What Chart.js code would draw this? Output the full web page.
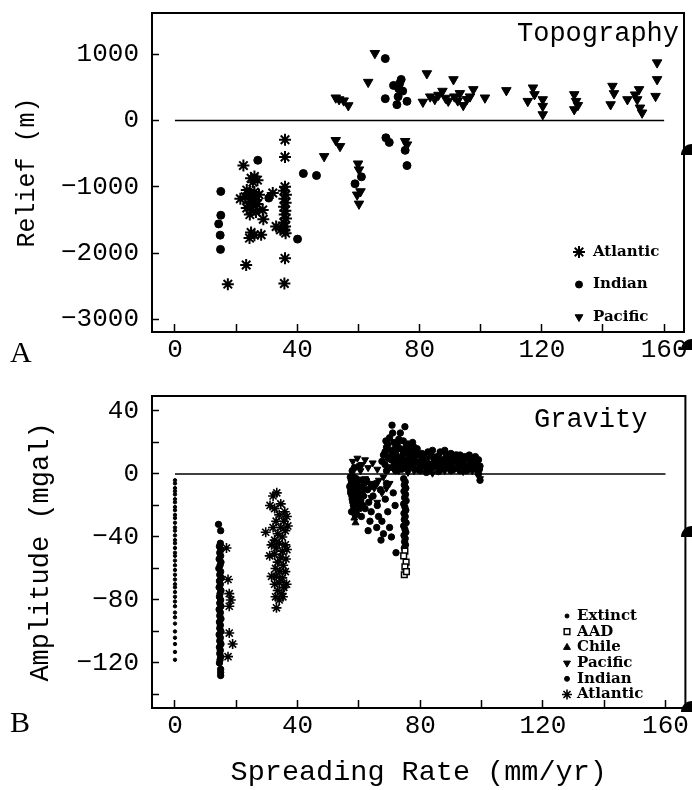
<!DOCTYPE html>
<html>
<head>
<meta charset="utf-8">
<script src="https://cdn.jsdelivr.net/npm/chart.js@4.4.1/dist/chart.umd.min.js"></script>
<style>
  body { margin: 0; background: #fff; }
  #wrap { position: relative; width: 692px; height: 790px; }
  canvas { position: absolute; left: 0; }
</style>
</head>
<body>
<div id="wrap">
  <canvas id="topo" width="692" height="380" style="top:0;width:692px;height:380px"></canvas>
  <canvas id="grav" width="692" height="410" style="top:380px;width:692px;height:410px"></canvas>
</div>
<script>
// spreading rate (mm/yr) vs relief (m) -- panel A
const topoAtlantic = [
  [17.3,-2470],[23.3,-2180],[22.4,-680],[36.0,-290],[36.0,-550],[36.0,-2080],[35.8,-2460],
  [21.4,-1180],[24.9,-870],[26.0,-845],[27.0,-900],[25.5,-930],
  [23.5,-1050],[24.5,-1100],[26.0,-1080],[27.5,-1120],[23.0,-1150],[25.0,-1180],[26.5,-1200],
  [24.0,-1250],[25.5,-1280],[27.0,-1260],[23.5,-1320],[25.0,-1350],[26.5,-1380],[24.5,-1420],
  [28.7,-1350],[28.9,-1490],[32.0,-1095],
  [24.9,-1690],[28.2,-1725],[24.4,-1775],[26.0,-1730],[33.1,-1600],[34.5,-1650],
  [36.0,-1000],[35.6,-1060],[36.3,-1120],[35.8,-1180],[36.2,-1240],[35.7,-1300],[36.1,-1360],
  [35.9,-1420],[36.3,-1480],[35.6,-1540],[36.0,-1600],[35.8,-1660],[36.2,-1700]
];
const topoIndian = [
  [15.0,-1070],[15.0,-1430],[14.3,-1560],[14.8,-1730],[14.9,-1945],
  [27.1,-600],[30.7,-1170],[40.1,-1790],[42.0,-800],[46.3,-830],
  [58.9,-955],[61.0,-850],
  [69.0,-260],[70.1,-330],[75.3,-450],[75.9,-680],
  [68.8,935],[74.0,620],[73.5,560],[71.5,530],[73.2,480],[74.5,445],[68.8,330],[72.6,240],[75.9,290],[73.0,360]
];
const topoPacific = [
  [65.4,1015],[63.2,580],[52.6,344],[53.7,318],[56.7,227],[55.2,300],
  [52.6,-298],[54.0,-389],[48.8,-541],[59.9,-652],[60.2,-742],[60.7,-1071],[59.6,-1121],[60.2,-1258],
  [75.3,-313],[75.9,-364],
  [82.4,710],[91.1,620],[81.1,280],[83.5,360],[86.2,385],[87.5,445],[89.4,295],[91.4,360],[93.2,410],
  [94.3,230],[96.5,360],[97.6,470],[92.5,300],[95.5,320],[88.5,340],[85.0,320],[101.4,344],[108.4,455],
  [117.1,495],[117.6,394],[115.4,292],[120.3,318],[120.3,217],[120.3,91],
  [130.6,394],[131.2,292],[130.6,167],[131.8,230],
  [143.1,520],[143.6,409],[142.5,242],[148.0,318],[151.8,470],[151.2,318],[152.1,192],[152.8,117],[150.5,390],
  [157.7,874],[157.7,621],[157.2,368]
];

// spreading rate (mm/yr) vs gravity amplitude (mgal) -- panel B
const gravExtinct = [
  [0,-4],[0,-6],[0,-9],[0,-11],[0,-13],[0,-16],[0,-18],[0,-21],[0,-23],[0,-26],[0,-28],[0,-31],
  [0,-34],[0,-36],[0,-39],[0,-42],[0,-44],[0,-47],[0,-50],[0,-52],[0,-55],[0,-58],[0,-61],[0,-64],
  [0,-67],[0,-70],[0,-72],[0,-75],[0,-78],[0,-81],[0,-84],[0,-88],[0,-91],[0,-95],[0,-100],[0,-104],
  [0,-108],[0,-113],[0,-118]
];
const gravAAD = [[75.0,-49],[74.6,-52],[75.4,-56],[75.0,-59],[74.8,-64],[75.5,-62]];
const gravChile = [[58.9,-31],[59.5,-25],[58.5,-28],[60.0,-20],[59.0,-15]];
const gravPacific = [
  [58,8],[59.5,10],[61,6],[62,9],[63,4],[64.5,7],[66,3],[60.5,2],[62,-3],[63.5,-6],[65,-9],[66.5,-4],
  [67.5,-12],[68,-2],[70,-6],[71,4],[73,2],[76,1],[78,2],[80,5],[82,3],[84,0.5],[86,4],[88,2],
  [91,3],[94,1.5],[97,2],[99.5,-3],[64,-15],[61,-12],[66,-18],[69,-9]
];
const gravIndian = [
  [14.2,-32],[14.9,-36],[14.8,-44],[14.5,-46],[15.0,-48],[14.6,-50],[14.9,-52],[14.4,-54],[15.0,-56],
  [14.7,-58],[14.3,-60],[14.9,-62],[14.6,-64],[15.1,-66],[14.5,-68],[14.8,-70],[14.4,-72],[15.0,-74],
  [14.7,-76],[14.5,-78],[14.9,-80],[14.6,-82],[15.0,-84],[14.4,-86],[14.8,-88],[14.6,-90],[15.0,-92],
  [14.5,-94],[14.8,-96],[14.6,-98],[15.0,-100],[14.4,-102],[14.8,-104],[14.6,-106],[15.0,-108],
  [14.5,-110],[14.8,-112],[14.6,-114],[14.9,-116],[14.7,-118],[14.5,-120],[14.9,-124],[14.9,-126],[14.9,-128],
  [74.6,-3],[75.1,-5],[74.8,-7],[75.3,-9],[74.7,-11],[75.2,-13],[74.9,-15],[75.4,-17],[74.6,-19],
  [75.0,-21],[75.3,-23],[74.7,-25],[75.1,-27],[74.8,-29],[75.4,-31],[74.6,-33],[75.0,-35],[75.3,-37],
  [74.7,-39],[75.1,-41],[74.9,-43],[75.2,-45],[74.8,-47],[72.1,-50],
  [70.8,31],[75.0,30],[68.8,21],[70,23],[71.5,20],[73,22],[74.5,21],[76,19],[77.5,20],[69,17],
  [70.5,15],[72,17],[73.5,16],[75,15],[76.5,16],[78,14],[79.5,12],[68,12],[69.5,10],[71,12],
  [72.5,10],[74,11],[75.5,9],[77,10],[78.5,8],[68.5,6],[70,4],[71.5,7],[73,5],[74.5,6],[76,4],
  [77.5,5],[79,3],[69,2],[72,2],[67.5,8],[71,26],[73.5,26],
  [68.5,14],[69.5,19],[70.5,9],[71.5,14],[72.5,19],[73.5,8],[74.5,13],[75.5,18],[76.5,12],[77.5,8],
  [78.5,12],[79.5,7],[80.5,9],[70,11],[72,13],[74,3],[76,7],[78,17],[79,16],
  [80.5,13],[81.5,10],[82.5,14],[83.5,12],[84.5,8],[85.5,11],[86.5,14],[87.5,9],[88.5,12],[89.5,7],
  [90.5,10],[91.5,12],[92.5,6],[93.5,9],[94.5,11],[95.5,5],[96.5,8],[97.5,10],[98.5,6],[99.3,3],
  [81,5],[83,3],[85,5],[87,3],[89,4],[91,3],[93,2],[95,2],[97,4],[99,0],[82,7],[86,7],[90,6],
  [94,5],[98,8],[99.5,-4],[84,15],[88,15],[92,12],[96,12],
  [81,12],[82,9],[83,6],[84,11],[85,8],[86,11],[87,6],[88,8],[89,11],[90,13],[91,8],[92,9],[93,12],
  [94,8],[95,10],[96,6],[97,7],[98,11],[99,9],[99.5,5],[80,2],[82,1],[84,4],[86,1.5],[88,5],[90,2],
  [92,4],[94,3],[96,3],[98,3],
  [57.5,-4],[57,-8],[57.3,-12],[57.8,-16],[58.2,-20],[57.6,-24],[58.4,-2],[59,-6],[59.4,-10],
  [58.8,-14],[59.6,-18],[60.2,-22],[60.5,-4],[61,-9],[61.5,-14],[60.8,-27],[62.5,-4],[62.8,-10],
  [63.2,-18],[62,-22],[64.2,-8],[64.6,-14],[64,-24],[63.6,-30],[65.5,-6],[66,-20],[66.4,-27],
  [65.8,-34],[67,-10],[67.5,-30],[68,-38],[67.2,-42],[68.6,-16],[69.4,-24],[70,-34],[70.6,-40],
  [71.2,-12],[71.8,-20],[69,-6],[63,-36],
  [57.2,-2],[57.5,-6],[57.3,-10],[57.7,-14],[58,-18],[58.4,-22],[58.8,-26],[58.1,-8],[58.6,-12],
  [59.2,-3],[59.8,-8],[60.2,-13],[60.6,-17],[61.2,-20],[61.8,-6],[60,5],[58.5,4],[57.8,2]
];
const gravAtlantic = [
  [16.8,-47],[17.3,-67],[17.7,-76],[18.2,-80],[17.7,-84],[17.7,-101],[18.8,-108],[17.3,-116],
  [32,-14],[33.2,-12],[34.5,-19],[35.8,-24],[36.5,-27],[31,-20],[29.6,-37],[30.9,-52],[33.1,-85],
  [35.2,-78],[36.4,-70],[31.5,-65],
  [32.5,-22],[34,-26],[35.5,-30],[33,-30],[32,-34],[34.5,-34],[36,-36],[33.5,-38],[35,-40],
  [32.5,-42],[34,-44],[36,-45],[33,-47],[35,-49],[32.5,-51],[34.5,-53],[36.2,-54],[33.5,-56],
  [35.3,-58],[32.8,-60],[34.2,-62],[36,-62],[33,-65],[35,-66],[34,-69],[32.5,-70],[35.5,-72],
  [33.5,-74],[34.8,-76],[32.8,-78],[34,-80],[36.5,-48],[31.5,-45],[36.8,-33]
];

const zeroLine = [[0,0],[160,0]];
const xTicks = [0, 20, 40, 60, 80, 100, 120, 140, 160];
const xTickLabels = [0, 40, 80, 120, 160];
const topoYTicks = [-3000, -2000, -1000, 0, 1000];
const topoYTickLabels = [1000, 0, -1000, -2000, -3000];
const gravYTicks = [-140, -120, -100, -80, -60, -40, -20, 0, 20, 40];
const gravYTickLabels = [40, 0, -40, -80, -120];

Chart.defaults.font.family = 'Liberation Mono';
Chart.defaults.color = '#000';

function pts(a) {
  return a.map(function (p) { return { x: p[0], y: p[1] }; });
}
function fmt(v) {
  return v < 0 ? '\u2212' + Math.abs(v) : String(v);
}

// frame, inner title, panel letter, legend inside the plot
const panelDecor = {
  id: 'panelDecor',
  afterDraw: function (chart, args, o) {
    const ctx = chart.ctx, a = chart.chartArea;
    ctx.save();
    ctx.strokeStyle = '#000';
    ctx.lineWidth = 2;
    ctx.strokeRect(a.left, a.top, a.right - a.left, a.bottom - a.top);

    ctx.fillStyle = '#000';
    ctx.font = o.titleFont;
    ctx.textAlign = 'right';
    ctx.textBaseline = 'alphabetic';
    ctx.fillText(o.title, a.right - o.titleDx, a.top + o.titleDy);

    ctx.font = o.letterFont;
    ctx.textAlign = 'left';
    ctx.fillText(o.letter, o.letterX, o.letterY);

    ctx.font = o.legendFont;
    ctx.textBaseline = 'middle';
    let y = o.legendY;
    chart.data.datasets.forEach(function (ds) {
      if (!ds.label) return;
      ctx.fillStyle = ds.backgroundColor;
      ctx.strokeStyle = ds.borderColor;
      ctx.lineWidth = ds.borderWidth;
      Chart.helpers.drawPoint(ctx, {
        pointStyle: ds.pointStyle,
        radius: ds.legendRadius || ds.pointRadius,
        rotation: ds.pointRotation || 0,
        borderWidth: ds.borderWidth
      }, o.legendX, y);
      ctx.fillStyle = '#000';
      ctx.fillText(ds.label, o.legendX + o.legendTextDx, y);
      y += o.legendGap;
    });

    // punched-hole marks along the right edge of the scan
    (o.holes || []).forEach(function (h) {
      ctx.beginPath();
      ctx.moveTo(chart.width, h);
      ctx.arc(chart.width, h, 11, Math.PI, 1.5 * Math.PI);
      ctx.closePath();
      ctx.fillStyle = '#000';
      ctx.fill();
    });
    ctx.restore();
  }
};

function xAxis(title, height) {
  return {
    type: 'linear', min: -7.5, max: 166.5,
    border: { display: false },
    grid: { drawOnChartArea: false, tickLength: -8, tickWidth: 1.5, tickColor: '#000' },
    ticks: {
      autoSkip: false, maxRotation: 0, padding: 11,
      font: { size: 26 },
      callback: function (v) { return xTickLabels.indexOf(v) >= 0 ? fmt(v) : ''; }
    },
    title: { display: !!title, text: title, font: { size: 28.5 }, padding: { top: 0, bottom: 0 } },
    afterBuildTicks: function (s) { s.ticks = xTicks.map(function (v) { return { value: v }; }); },
    afterFit: function (s) { s.height = height; s.paddingLeft = 0; s.paddingRight = 0; }
  };
}

function yAxis(min, max, ticks, labels, title, titleSize, titlePad) {
  return {
    type: 'linear', min: min, max: max,
    border: { display: false },
    grid: { drawOnChartArea: false, tickLength: -7, tickWidth: 1.5, tickColor: '#000' },
    ticks: {
      autoSkip: false, padding: 20,
      font: { size: 26 },
      callback: function (v) { return labels.indexOf(v) >= 0 ? fmt(v) : ''; }
    },
    title: { display: true, text: title, font: { size: titleSize }, padding: { top: titlePad, bottom: 0 } },
    afterBuildTicks: function (s) { s.ticks = ticks.map(function (v) { return { value: v }; }); },
    afterFit: function (s) { s.width = 152; s.paddingTop = 0; s.paddingBottom = 0; }
  };
}

function zeroDataset() {
  return {
    type: 'line', data: pts(zeroLine), borderColor: '#000', borderWidth: 1.5,
    pointRadius: 0, showLine: true, fill: false
  };
}

function series(label, data, style, r, opts) {
  const ds = {
    label: label, data: pts(data), pointStyle: style, pointRadius: r,
    backgroundColor: '#000', borderColor: '#000', borderWidth: 1
  };
  Object.assign(ds, opts || {});
  return ds;
}

new Chart(document.getElementById('topo'), {
  type: 'scatter',
  data: {
    datasets: [
      series('Atlantic', topoAtlantic, 'star', 6, { borderWidth: 2 }),
      series('Indian', topoIndian, 'circle', 4, { legendRadius: 3.5 }),
      series('Pacific', topoPacific, 'triangle', 5.5, { pointRotation: 180, legendRadius: 4.5 }),
      zeroDataset()
    ]
  },
  options: {
    responsive: false, animation: false, devicePixelRatio: 1,
    layout: { padding: { top: 13, right: 5, bottom: 0, left: 0 } },
    scales: {
      x: xAxis('', 48),
      y: yAxis(-3192, 1623, topoYTicks, topoYTickLabels, 'Relief (m)', 25, 12)
    },
    plugins: {
      legend: { display: false }, tooltip: { enabled: false },
      panelDecor: {
        title: 'Topography', titleFont: '27px "Liberation Mono"', titleDx: 5, titleDy: 28,
        letter: 'A', letterFont: '30px "Liberation Serif"', letterX: 10, letterY: 362,
        legendFont: 'bold 15px "DejaVu Serif"', legendX: 579, legendY: 252, legendGap: 32.5, legendTextDx: 14,
        holes: [155, 350]
      }
    }
  },
  plugins: [panelDecor]
});

new Chart(document.getElementById('grav'), {
  type: 'scatter',
  data: {
    datasets: [
      series('Extinct', gravExtinct, 'circle', 1.7, { legendRadius: 2 }),
      series('AAD', gravAAD, 'rect', 4, { backgroundColor: '#fff', borderWidth: 1.5 }),
      series('Chile', gravChile, 'triangle', 4),
      series('Pacific', gravPacific, 'triangle', 4, { pointRotation: 180 }),
      series('Indian', gravIndian, 'circle', 3.2, { legendRadius: 2.5 }),
      series('Atlantic', gravAtlantic, 'star', 5, { borderWidth: 1.6 }),
      zeroDataset()
    ]
  },
  options: {
    responsive: false, animation: false, devicePixelRatio: 1,
    layout: { padding: { top: 16, right: 5, bottom: 0, left: 0 } },
    scales: {
      x: xAxis('Spreading Rate (mm/yr)', 82),
      y: yAxis(-148.6, 49.5, gravYTicks, gravYTickLabels, 'Amplitude (mgal)', 27, 25)
    },
    plugins: {
      legend: { display: false }, tooltip: { enabled: false },
      panelDecor: {
        title: 'Gravity', titleFont: '27px "Liberation Mono"', titleDx: 38, titleDy: 31,
        letter: 'B', letterFont: '30px "Liberation Serif"', letterX: 10, letterY: 352,
        legendFont: 'bold 15px "DejaVu Serif"', legendX: 567, legendY: 236, legendGap: 15.7, legendTextDx: 10,
        holes: [157, 332]
      }
    }
  },
  plugins: [panelDecor]
});
</script>
</body>
</html>
